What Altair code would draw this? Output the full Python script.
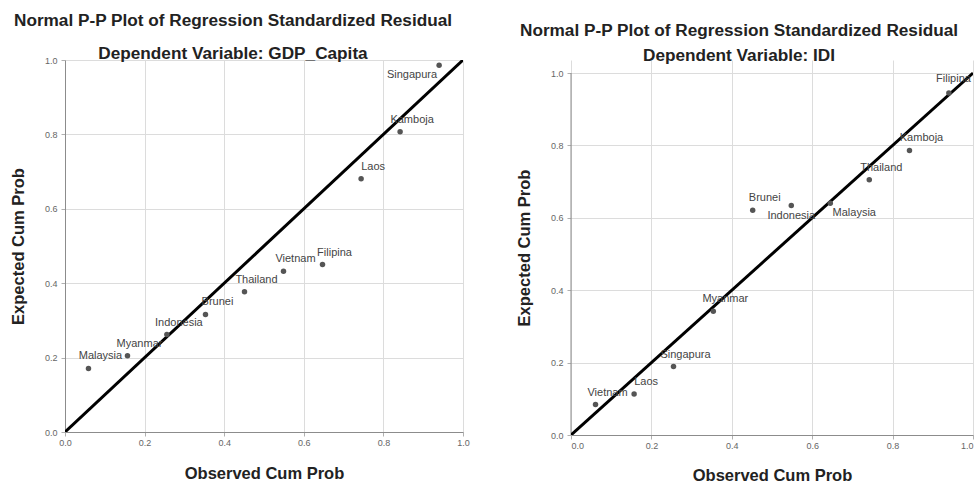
import altair as alt
import pandas as pd

# ---- data ----
countries_gdp = ["Malaysia", "Myanmar", "Indonesia", "Brunei", "Thailand",
                 "Vietnam", "Filipina", "Laos", "Kamboja", "Singapura"]
observed_gdp = [0.059, 0.157, 0.256, 0.353, 0.451, 0.549, 0.647, 0.744, 0.842, 0.940]
expected_gdp = [0.171, 0.205, 0.262, 0.316, 0.377, 0.432, 0.450, 0.681, 0.807, 0.986]

countries_idi = ["Vietnam", "Laos", "Singapura", "Myanmar", "Brunei",
                 "Indonesia", "Malaysia", "Thailand", "Kamboja", "Filipina"]
observed_idi = [0.061, 0.157, 0.255, 0.354, 0.452, 0.548, 0.645, 0.742, 0.842, 0.940]
expected_idi = [0.084, 0.113, 0.189, 0.342, 0.621, 0.634, 0.640, 0.705, 0.786, 0.945]

ref_line = [0.0, 1.0]
tick_values = [0.0, 0.2, 0.4, 0.6, 0.8, 1.0]

main_title = "Normal P-P Plot of Regression Standardized Residual"
sub_gdp = "Dependent Variable: GDP_Capita"
sub_idi = "Dependent Variable: IDI"
x_title = "Observed Cum Prob"
y_title = "Expected Cum Prob"

FONT = "Liberation Sans"
TXT = dict(font=FONT, fontSize=11, color="#444444", clip=True)


def label_layer(base, x, y, names, keep, **kw):
    pred = alt.FieldOneOfPredicate(field="country", oneOf=list(names))
    src = base.transform_filter(pred if keep else ~pred)
    return src.mark_text(**TXT, **kw).encode(x=x, y=y, text="country:N")


def panel(names, obs, exp, width, height, y_top, title_params, y_title_pad,
          x_title_pad, below_left=(), below_center=(), below_right=(),
          edge_right=(), x_flush=False, draw_domain=False):
    df = pd.DataFrame({"country": names, "obs": obs, "exp": exp})
    line_df = pd.DataFrame({"obs": ref_line, "exp": ref_line})

    x = alt.X("obs:Q", scale=alt.Scale(domain=[0, 1], nice=False),
              axis=alt.Axis(values=tick_values, format=".1f", title=x_title,
                            labelFlush=x_flush, titlePadding=x_title_pad,
                            labelPadding=2))
    y = alt.Y("exp:Q", scale=alt.Scale(domain=[0, y_top], nice=False),
              axis=alt.Axis(values=tick_values, format=".1f", title=y_title,
                            titlePadding=y_title_pad, domain=not draw_domain))

    base = alt.Chart(df)
    layers = []
    if draw_domain:
        dom_df = pd.DataFrame({"exp": [ref_line[0]], "exp_end": [ref_line[1]]})
        layers.append(alt.Chart(dom_df).mark_rule(color="#8c8c8c", strokeWidth=1).encode(
            x=alt.value(0), y=alt.Y("exp:Q"), y2="exp_end:Q"))
    layers.append(alt.Chart(line_df).mark_line(color="black", strokeWidth=3,
                                               clip=True).encode(x=x, y=y))
    layers.append(base.mark_circle(size=30, color="#555555", opacity=1).encode(x=x, y=y))

    special = list(below_left) + list(below_center) + list(below_right) + list(edge_right)
    layers.append(label_layer(base, x, y, special or ["__"], False,
                              align="center", baseline="middle", dx=12, dy=-12))
    if below_left:
        layers.append(label_layer(base, x, y, below_left, True,
                                  align="right", baseline="middle", dx=-2, dy=10))
    if below_center:
        layers.append(label_layer(base, x, y, below_center, True,
                                  align="center", baseline="middle", dx=0, dy=11))
    if below_right:
        layers.append(label_layer(base, x, y, below_right, True,
                                  align="center", baseline="middle", dx=24, dy=10))
    if edge_right:
        layers.append(label_layer(base, x, y, edge_right, True,
                                  align="right", baseline="middle", dx=22, dy=-14))

    return alt.layer(*layers).properties(width=width, height=height, title=title_params)


left_title = alt.TitleParams(
    text=main_title, subtitle=sub_gdp, anchor="middle", font=FONT,
    subtitleFont=FONT, fontSize=17.2, subtitleFontSize=17.2, fontWeight="bold",
    subtitleFontWeight="bold", color="#222222", subtitleColor="#222222",
    offset=-6, subtitlePadding=16, dx=-31)

right_title = alt.TitleParams(
    text=main_title, subtitle=sub_idi, anchor="middle", font=FONT,
    subtitleFont=FONT, fontSize=17.2, subtitleFontSize=17.2, fontWeight="bold",
    subtitleFontWeight="bold", color="#222222", subtitleColor="#222222",
    offset=-4, subtitlePadding=8, dx=-33)

left = panel(countries_gdp, observed_gdp, expected_gdp, 398, 372, 1.0,
             left_title, 18, 18, below_left=["Singapura"])
right = panel(countries_idi, observed_idi, expected_idi, 402, 375, 375 / 362,
              right_title, 18, 17, below_center=["Indonesia"],
              below_right=["Malaysia"], edge_right=["Filipina"], x_flush=True,
              draw_domain=True)

chart = alt.hconcat(left, right, spacing=46).properties(
    padding={"left": 10, "top": 11, "right": 0, "bottom": 0}
).configure_view(stroke=None).configure_axis(
    gridColor="#dcdcdc", domainColor="#8c8c8c", tickColor="#b0b0b0",
    tickSize=4, labelPadding=4, labelColor="#666666", labelFont=FONT,
    labelFontSize=9, titleFont=FONT, titleFontSize=16.5,
    titleFontWeight="bold", titleColor="#222222"
)

chart.save("out.html", embed_options={"renderer": "svg", "actions": False})
